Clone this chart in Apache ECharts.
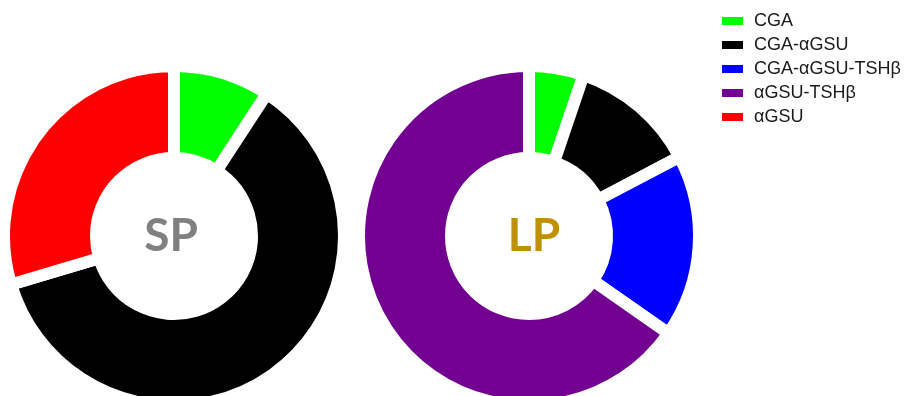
<!DOCTYPE html>
<html><head><meta charset="utf-8">
<script src="https://cdn.jsdelivr.net/npm/echarts@6/dist/echarts.min.js"></script>
<style>html,body{margin:0;padding:0;background:#fff}#c{width:912px;height:396px}</style>
</head><body><div id="c"></div>
<script>
const categories = ['CGA', 'CGA-αGSU', 'CGA-αGSU-TSHβ', 'αGSU-TSHβ', 'αGSU'];
const categoryColors = ['#00ff00', '#000000', '#0000ff', '#720091', '#ff0000'];
const spNames = ['CGA', 'CGA-αGSU', 'αGSU'];
const spValues = [9.2, 61.2, 29.6];
const lpNames = ['CGA', 'CGA-αGSU', 'CGA-αGSU-TSHβ', 'αGSU-TSHβ'];
const lpValues = [5.2, 12.1, 17.4, 65.3];

function colorOf(n){ return categoryColors[categories.indexOf(n)]; }
function mk(names, vals){ return names.map((n,i)=>({name:n, value:vals[i], itemStyle:{color:colorOf(n)}})); }

const common = {
  type:'pie', radius:[78,170], startAngle:90, clockwise:true,
  label:{show:false}, labelLine:{show:false},
  itemStyle:{borderColor:'#ffffff', borderWidth:12, borderJoin:'miter'},
  emphasis:{disabled:true}, silent:true, avoidLabelOverlap:false
};
const chart = echarts.init(document.getElementById('c'), null, {renderer:'canvas'});
chart.setOption({
  animation:false,
  backgroundColor:'#ffffff',
  legend:{
    orient:'vertical', left:720, top:12, padding:0, itemWidth:23, itemHeight:10, itemGap:6,
    icon:'rect', data:categories,
    textStyle:{fontFamily:'Liberation Sans', fontSize:18, lineHeight:18, color:'#1a1a1a', padding:[0,0,0,5]}
  },
  series:[
    Object.assign({}, common, {name:'SP', center:[174,236], data:mk(spNames, spValues)}),
    Object.assign({}, common, {name:'LP', center:[529,236], data:mk(lpNames, lpValues)})
  ],
  graphic:[
    {type:'text', x:171, y:236, style:{text:'SP', textAlign:'center', textVerticalAlign:'middle', font:'bold 46px Lato', fill:'#808080'}},
    {type:'text', x:534, y:236, style:{text:'LP', textAlign:'center', textVerticalAlign:'middle', font:'bold 46px Lato', fill:'#bf9000'}}
  ]
});
</script></body></html>
